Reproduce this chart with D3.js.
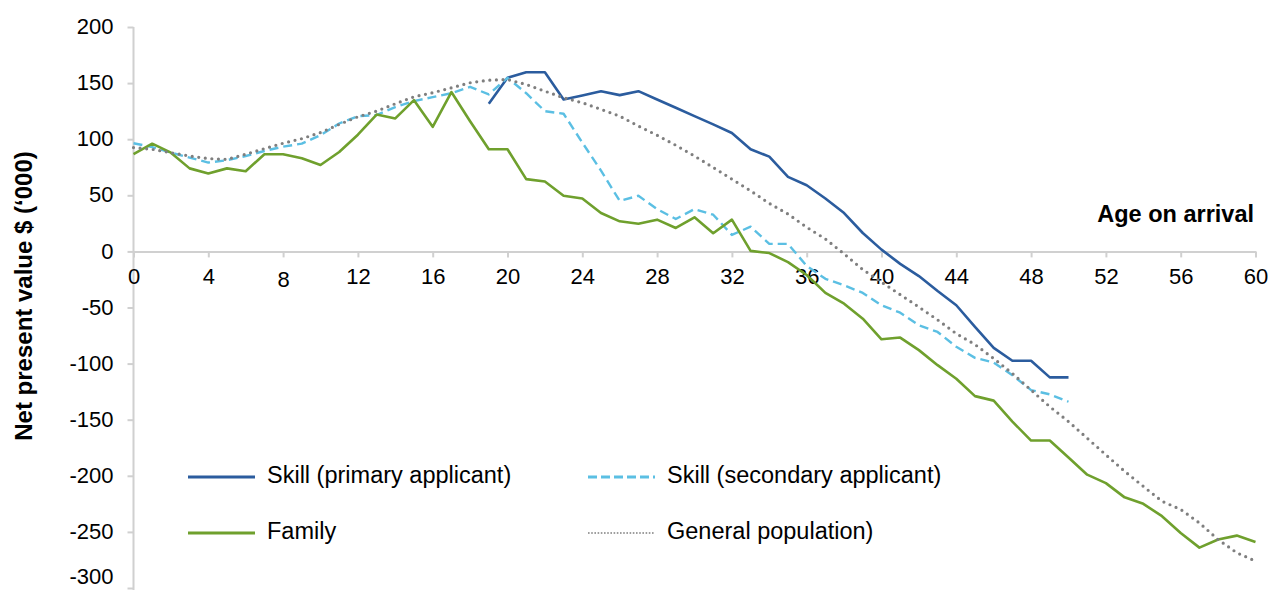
<!DOCTYPE html>
<html>
<head>
<meta charset="utf-8">
<script src="https://cdn.jsdelivr.net/npm/d3@7"></script>
<style>
  body { margin: 0; background: #fff; }
  text { font-family: "Liberation Sans", Arial, sans-serif; fill: #000; }
</style>
</head>
<body>
<div id="chart"></div>
<script>
// age on arrival (x categories)
const ages = [0, 1, 2, 3, 4, 5, 6, 7, 8, 9, 10, 11, 12, 13, 14, 15, 16, 17, 18, 19, 20,
  21, 22, 23, 24, 25, 26, 27, 28, 29, 30, 31, 32, 33, 34, 35, 36, 37, 38, 39, 40,
  41, 42, 43, 44, 45, 46, 47, 48, 49, 50, 51, 52, 53, 54, 55, 56, 57, 58, 59, 60];

// net present value, $'000 (null = no value at that age)
const skillPrimary = [null, null, null, null, null, null, null, null, null, null,
  null, null, null, null, null, null, null, null, null, 131.6,
  154.7, 159.7, 159.7, 135.4, 139, 142.8, 139.3, 142.8, 135.4, 128,
  120.6, 113.2, 105.5, 91, 84.5, 66.4, 59, 47.2, 34.2, 16.4,
  1.6, -11.1, -22, -35.3, -48, -67.3, -86, -97.5, -97.5, -112.3,
  -112.3];
const skillSecondary = [96.4, 93, 88, 83.6, 79.2, 81.3, 85, 89.5, 93.4, 96,
  103.5, 114, 120.6, 121.5, 128.6, 134, 137.5, 141, 146.7, 139.9,
  154.7, 141, 125, 122.7, 97, 72, 45, 49.6, 37.7, 28.9,
  37.7, 32.7, 14.7, 22, 6.7, 6.7, -13, -24.4, -30.3, -37,
  -48, -54.6, -65.9, -71.8, -85, -94.9, -99, -110.3, -123.6, -127.4,
  -134];
const family = [86.6, 96, 88, 74, 69.4, 74, 71.5, 86.6, 86.6, 83,
  77, 88.6, 104, 122, 118.5, 134.8, 111, 142, 116, 91,
  91, 64.4, 62.3, 49.6, 47.2, 34.2, 26.8, 24.7, 28.3, 20.9,
  30.4, 16.2, 28.3, 0.5, -1.5, -9.5, -21, -37, -46.6, -60,
  -78.3, -76.8, -88, -101.4, -113.5, -129, -133, -151.7, -168.6, -168.6,
  -183.7, -199, -206.5, -219.2, -225, -236, -251, -264, -256.8, -253.3,
  -259];
const generalPop = [92.5, 91, 88, 85, 82.7, 82, 86.6, 91.6, 96.4, 100.5,
  105.9, 113.2, 120, 125, 131.6, 137.8, 141.4, 145.8, 150.3, 152.6,
  153.2, 148.8, 142.8, 136.9, 132.5, 126.6, 120.6, 111.7, 103.5, 94.6,
  85, 74.8, 64.4, 54, 42.8, 33.3, 21.5, 11.1, -2.2, -16.2,
  -27.4, -38.5, -49.6, -61, -73.3, -83, -95.5, -108.8, -123.6, -138.4,
  -151.7, -166.5, -181.3, -196, -209.4, -222.7, -230, -242, -256.8, -268.6,
  -276];

const xTicks = [0, 4, 8, 12, 16, 20, 24, 28, 32, 36, 40, 44, 48, 52, 56, 60];
const yTicks = [-300, -250, -200, -150, -100, -50, 0, 50, 100, 150, 200];

const seriesNames = ["Skill (primary applicant)", "Skill (secondary applicant)", "Family", "General population)"];

// styles per series
const styles = [
  { values: skillPrimary, color: "#2b5c9e", width: 2.6, dash: null, cap: "butt" },
  { values: skillSecondary, color: "#5bbfe3", width: 2.4, dash: "9,5", cap: "butt" },
  { values: family, color: "#6fa02d", width: 2.6, dash: null, cap: "butt" },
  { values: generalPop, color: "#7f7f7f", width: 3.2, dash: "0,6.6", cap: "round" }
];

const W = 1279, H = 590;

const svg = d3.select("#chart")
  .append("svg")
  .attr("width", W)
  .attr("height", H);

const x = d3.scaleLinear().domain([0, 60]).range([133.5, 1255.5]);
const y = d3.scaleLinear().domain([-300, 200]).range([588, 27]);

// y axis (plain hyphen for negatives, as in the original)
const yAxis = svg.append("g")
  .attr("transform", `translate(${x(0)},0)`)
  .call(d3.axisLeft(y).tickValues(yTicks).tickFormat(d => String(d))
    .tickSize(6).tickPadding(14).tickSizeOuter(0));
yAxis.select(".domain").attr("stroke", "#d0d0d0").attr("stroke-width", 2)
  .attr("d", `M0,${y(200)}V${H}`);
yAxis.selectAll(".tick line").attr("stroke", "#d0d0d0").attr("stroke-width", 2);
yAxis.selectAll(".tick text").style("font-size", "22px")
  .attr("dy", d => d === -300 ? "-0.2em" : "0.3em");

// x axis sits on the zero line
const xAxis = svg.append("g")
  .attr("transform", `translate(0,${y(0)})`)
  .call(d3.axisBottom(x).tickValues(xTicks).tickSize(6).tickPadding(11).tickSizeOuter(0));
xAxis.select(".domain").attr("stroke", "#d0d0d0").attr("stroke-width", 2);
xAxis.selectAll(".tick line").attr("stroke", "#d0d0d0").attr("stroke-width", 2);
xAxis.selectAll(".tick text").style("font-size", "22px")
  .attr("dy", d => d === 8 ? "0.85em" : "0.71em");

// lines
const line = d3.line()
  .defined(d => d[1] !== null && d[1] !== undefined)
  .x(d => x(d[0]))
  .y(d => y(d[1]));

styles.forEach(s => {
  const pts = ages.map((a, i) => [a, s.values[i] === undefined ? null : s.values[i]]);
  svg.append("path")
    .datum(pts)
    .attr("fill", "none")
    .attr("stroke", s.color)
    .attr("stroke-width", s.width)
    .attr("stroke-dasharray", s.dash)
    .attr("stroke-linecap", s.cap)
    .attr("stroke-linejoin", "round")
    .attr("d", line);
});

// axis titles
svg.append("text")
  .attr("transform", "translate(32,296) rotate(-90)")
  .attr("text-anchor", "middle")
  .style("font-size", "24px")
  .style("font-weight", "bold")
  .text("Net present value $ (\u2018000)");

svg.append("text")
  .attr("x", 1254)
  .attr("y", 222)
  .attr("text-anchor", "end")
  .style("font-size", "23.5px")
  .style("font-weight", "bold")
  .text("Age on arrival");

// legend
const legendPos = [[188, 477], [588, 477], [188, 533], [588, 533]];
seriesNames.forEach((name, i) => {
  const [lx, ly] = legendPos[i];
  const s = styles[i];
  svg.append("line")
    .attr("x1", lx).attr("x2", lx + 67)
    .attr("y1", ly).attr("y2", ly)
    .attr("stroke", s.color)
    .attr("stroke-width", i === 3 ? 1.6 : 3)
    .attr("stroke-dasharray", i === 1 ? "9,4" : (i === 3 ? "1.6,1.6" : null));
  svg.append("text")
    .attr("x", lx + 79)
    .attr("y", ly + 6)
    .style("font-size", "23.5px")
    .text(name);
});
</script>
</body>
</html>
